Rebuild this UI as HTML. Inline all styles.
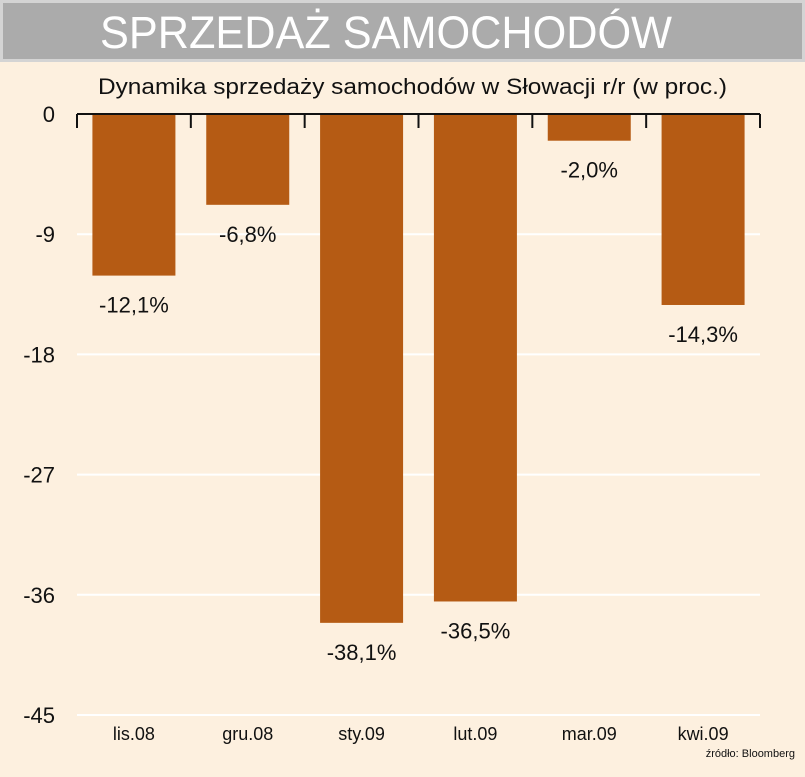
<!DOCTYPE html>
<html><head><meta charset="utf-8"><style>
body{margin:0;background:#fdf0df;}
svg{display:block;font-family:"Liberation Sans",sans-serif;}
</style></head><body>
<svg id="c" width="805" height="777">
<rect x="0" y="0" width="805" height="777" fill="#fdf0df"/>
<rect x="0" y="0" width="805" height="62" fill="#d4d4d4"/>
<rect x="3" y="3" width="799" height="56" fill="#ababab"/>
<text x="100" y="48" textLength="572" lengthAdjust="spacingAndGlyphs" font-size="45" fill="#fff">SPRZEDAŻ SAMOCHODÓW</text>
<text x="98" y="94" textLength="629" lengthAdjust="spacingAndGlyphs" font-size="22" fill="#111">Dynamika sprzedaży samochodów w Słowacji r/r (w proc.)</text>
<text x="795" y="757" text-anchor="end" font-size="11" fill="#111">źródło: Bloomberg</text>
</svg>
<script>
const categories=["lis.08","gru.08","sty.09","lut.09","mar.09","kwi.09"];
const values=[-12.1,-6.8,-38.1,-36.5,-2.0,-14.3];
const valueLabels=["-12,1%","-6,8%","-38,1%","-36,5%","-2,0%","-14,3%"];
const yTicks=[0,-9,-18,-27,-36,-45];
const svg=document.getElementById('c');
const NS="http://www.w3.org/2000/svg";
const x0=77,x1=760,y0=114,y1=715,ymin=-45;
const bw=(x1-x0)/categories.length;
const y=v=>y0+(v/ymin)*(y1-y0);
function el(t,a,txt){const e=document.createElementNS(NS,t);for(const k in a)e.setAttribute(k,a[k]);if(txt!==undefined)e.textContent=txt;svg.appendChild(e);return e;}
yTicks.forEach(t=>{
  if(t!==0){const g=el('line',{x1:x0,x2:x1,y1:y(t),y2:y(t),stroke:'#fff','stroke-width':2});
  
  }
  const l=el('text',{x:55,y:y(t)+8,'text-anchor':'end','font-size':22,fill:'#111'},String(t));
  
  
});
categories.forEach((c,i)=>{
  const cx=x0+bw*(i+0.5);
  const b=el('rect',{x:cx-41.5,y:y(0),width:83,height:y(values[i])-y(0),fill:'#b55b14'});
  
  
  const v=el('text',{x:cx,y:y(values[i])+37,'text-anchor':'middle','font-size':22,fill:'#111'},valueLabels[i]);
  
  
  const cl=el('text',{x:cx,y:740,'text-anchor':'middle','font-size':18,fill:'#111'},c);
  
  
});
const ax=el('line',{x1:x0,x2:x1,y1:y0,y2:y0,stroke:'#111','stroke-width':2});


for(let i=0;i<=categories.length;i++){
  const tx=x0+bw*i;
  const tk=el('line',{x1:tx,x2:tx,y1:y0,y2:y0+14,stroke:'#111','stroke-width':2});
  
  
}
</script>
</body></html>
